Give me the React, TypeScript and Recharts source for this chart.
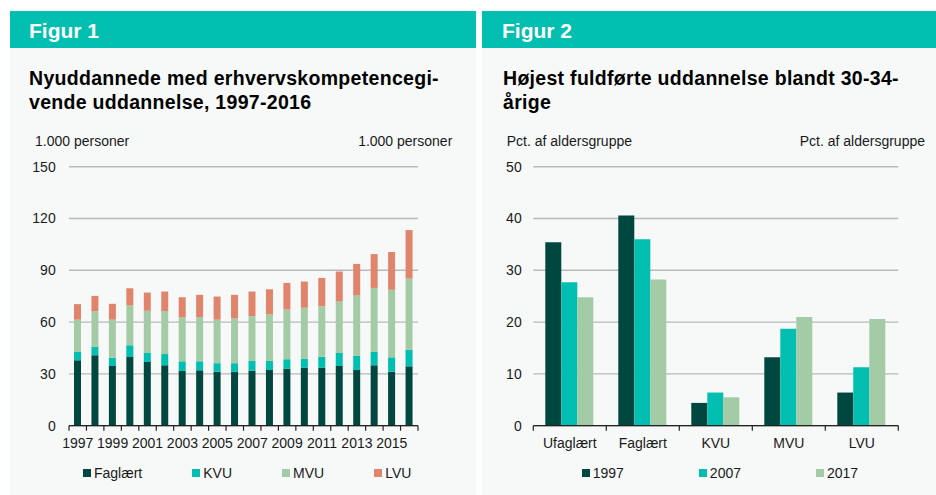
import React from 'react';
import { BarChart, Bar, XAxis, YAxis, CartesianGrid } from 'recharts';

// ---------- Figur 1 data (1.000 personer) ----------
const years = ['1997','1998','1999','2000','2001','2002','2003','2004','2005','2006','2007','2008','2009','2010','2011','2012','2013','2014','2015','2016'];
const faglaert = [37.9,40.8,34.6,39.8,36.9,35.0,31.7,32.1,31.2,31.2,31.9,32.3,32.9,33.5,33.5,34.6,32.3,35.0,31.2,34.4];
const kvu = [4.8,4.8,4.8,6.8,5.2,6.5,5.6,5.2,5.0,5.0,5.6,5.2,5.6,5.2,6.5,7.5,8.1,7.7,8.4,9.5];
const mvu = [18.7,20.6,22.0,23.0,24.5,24.9,25.4,25.6,25.2,25.9,26.0,26.9,28.8,29.6,29.2,29.8,35.0,37.1,39.1,41.3];
const lvu = [9.0,9.0,9.2,10.0,10.5,11.3,11.7,12.9,13.4,13.7,14.2,14.6,15.4,15.2,16.4,17.4,18.3,19.6,21.9,28.1];
const fig1Ticks = [0,30,60,90,120,150];

// ---------- Figur 2 data (Pct. af aldersgruppe) ----------
const groups = ['Ufaglært','Faglært','KVU','MVU','LVU'];
const y1997 = [35.4,40.6,4.4,13.2,6.4];
const y2007 = [27.7,36.0,6.4,18.7,11.3];
const y2017 = [24.8,28.2,5.5,21.0,20.6];
const fig2Ticks = [0,10,20,30,40,50];

const DARK = '#00483f';
const TEAL = '#00bfb0';
const LGREEN = '#a3cca6';
const SALMON = '#e0846b';
const HEADER = '#00bfb0';
const PANEL = '#f7f9f9';
const GRID = '#b9b9b9';
const AXIS = '#222222';
const TXT = '#1a1a1a';

const fig1Series = [
  { key: 'Faglært', color: DARK },
  { key: 'KVU', color: TEAL },
  { key: 'MVU', color: LGREEN },
  { key: 'LVU', color: SALMON },
];
const fig2Series = [
  { key: '1997', color: DARK },
  { key: '2007', color: TEAL },
  { key: '2017', color: LGREEN },
];

const fig1Data = years.map((y, i) => ({
  year: y,
  'Faglært': faglaert[i],
  KVU: kvu[i],
  MVU: mvu[i],
  LVU: lvu[i],
}));
const fig2Data = groups.map((g, i) => ({
  group: g,
  '1997': y1997[i],
  '2007': y2007[i],
  '2017': y2017[i],
}));

const FONT = '"Liberation Sans", Arial, Helvetica, sans-serif';
const tickStyle = { fontSize: 14, fill: TXT, fontFamily: FONT };

const X_TICK_SIZE = 6;
const X_TICK_MARGIN = 6;
const MARK_LEN = 5;

// Category tick: boundary tick marks (Excel-style) + label every `every` categories
function makeBoundaryTick(count: number, every: number) {
  return function BoundaryTick(props: any) {
    const { x, y, payload, index } = props;
    const off = payload && typeof payload.offset === 'number' ? payload.offset : 0;
    const axisY = y - X_TICK_SIZE - X_TICK_MARGIN;
    const left = x - off;
    return (
      <g>
        <line x1={left} x2={left} y1={axisY} y2={axisY + MARK_LEN} stroke={AXIS} strokeWidth={1.2} />
        {index === count - 1 && (
          <line x1={x + off} x2={x + off} y1={axisY} y2={axisY + MARK_LEN} stroke={AXIS} strokeWidth={1.2} />
        )}
        {index % every === 0 && (
          <text x={x} y={y} dy="0.71em" textAnchor="middle" fontSize={14} fill={TXT} fontFamily={FONT}>
            {payload.value}
          </text>
        )}
      </g>
    );
  };
}

const Fig1Tick = makeBoundaryTick(years.length, 2);
const Fig2Tick = makeBoundaryTick(groups.length, 1);

function Legend({ items, left, gap }: { items: { key: string; color: string }[]; left: number; gap: number }) {
  return (
    <div style={{ position: 'absolute', left, top: 464.7, display: 'flex', alignItems: 'center', gap, whiteSpace: 'nowrap' }}>
      {items.map((it) => (
        <div key={it.key} style={{ display: 'flex', alignItems: 'center' }}>
          <div style={{ width: 8, height: 8, background: it.color, marginRight: 3 }} />
          <span style={{ fontSize: 14, lineHeight: '16px', color: TXT }}>{it.key}</span>
        </div>
      ))}
    </div>
  );
}

const titleStyle: React.CSSProperties = {
  position: 'absolute', top: 65.6, fontSize: 19.5, lineHeight: '24.5px', fontWeight: 'bold',
  color: '#000', whiteSpace: 'nowrap', letterSpacing: 0.3,
};
const headerStyle: React.CSSProperties = {
  position: 'absolute', top: 19.6, fontSize: 21, lineHeight: '21px', fontWeight: 'bold', color: '#fff', whiteSpace: 'nowrap',
};
const unitStyle: React.CSSProperties = {
  position: 'absolute', top: 133.2, fontSize: 14, lineHeight: '16px', color: TXT, whiteSpace: 'nowrap',
};

export default function App() {
  return (
    <div style={{ position: 'absolute', left: 0, top: 0, width: 936, height: 495, background: '#ffffff', fontFamily: FONT, overflow: 'hidden' }}>
      {/* Panels */}
      <div style={{ position: 'absolute', left: 10, top: 11, width: 466, height: 484, background: PANEL }} />
      <div style={{ position: 'absolute', left: 10, top: 11, width: 466, height: 37, background: HEADER }} />
      <div style={{ position: 'absolute', left: 482, top: 11, width: 454, height: 484, background: PANEL }} />
      <div style={{ position: 'absolute', left: 482, top: 11, width: 454, height: 37, background: HEADER }} />

      {/* Headers */}
      <div style={{ ...headerStyle, left: 29 }}>Figur 1</div>
      <div style={{ ...headerStyle, left: 502 }}>Figur 2</div>

      {/* Titles */}
      <div style={{ ...titleStyle, left: 29 }}>
        Nyuddannede med erhvervskompetencegi-<br />vende uddannelse, 1997-2016
      </div>
      <div style={{ ...titleStyle, left: 503 }}>
        Højest fuldførte uddannelse blandt 30-34-<br />årige
      </div>

      {/* Axis unit labels */}
      <div style={{ ...unitStyle, left: 35 }}>1.000 personer</div>
      <div style={{ ...unitStyle, right: 936 - 452.3, textAlign: 'right' }}>1.000 personer</div>
      <div style={{ ...unitStyle, left: 506.7 }}>Pct. af aldersgruppe</div>
      <div style={{ ...unitStyle, right: 11, textAlign: 'right' }}>Pct. af aldersgruppe</div>

      {/* Figur 1 chart */}
      <div style={{ position: 'absolute', left: 0, top: 0 }}>
        <BarChart width={480} height={495} data={fig1Data} margin={{ top: 166.7, right: 12, bottom: 39.3, left: 9 }}>
          <CartesianGrid vertical={false} stroke={GRID} strokeWidth={1.4} />
          <XAxis dataKey="year" height={30} axisLine={{ stroke: AXIS, strokeWidth: 1.2 }} tickLine={false} interval={0} tick={<Fig1Tick />} tickSize={X_TICK_SIZE} tickMargin={X_TICK_MARGIN} />
          <YAxis domain={[0, 150]} ticks={fig1Ticks} width={60} axisLine={false} tickLine={false} tick={tickStyle} tickSize={6} tickMargin={7.3} />
          <YAxis yAxisId="r" orientation="right" domain={[0, 150]} ticks={fig1Ticks} width={50} axisLine={false} tickLine={false} tick={tickStyle} tickSize={6} tickMargin={6.7} />
          {fig1Series.map((s) => (
            <Bar key={s.key} dataKey={s.key} stackId="a" fill={s.color} barSize={7} isAnimationActive={false} />
          ))}
        </BarChart>
      </div>

      {/* Figur 2 chart */}
      <div style={{ position: 'absolute', left: 480, top: 0 }}>
        <BarChart width={456} height={495} data={fig2Data} margin={{ top: 166.7, right: 7.7, bottom: 39.3, left: 3.3 }} barCategoryGap={12} barGap={0}>
          <CartesianGrid vertical={false} stroke={GRID} strokeWidth={1.4} />
          <XAxis dataKey="group" height={30} axisLine={{ stroke: AXIS, strokeWidth: 1.2 }} tickLine={false} interval={0} tick={<Fig2Tick />} tickSize={X_TICK_SIZE} tickMargin={X_TICK_MARGIN} />
          <YAxis domain={[0, 50]} ticks={fig2Ticks} width={50} axisLine={false} tickLine={false} tick={tickStyle} tickSize={6} tickMargin={5.6} />
          <YAxis yAxisId="r" orientation="right" domain={[0, 50]} ticks={fig2Ticks} width={30} axisLine={false} tickLine={false} tick={tickStyle} tickSize={6} tickMargin={5.7} />
          {fig2Series.map((s) => (
            <Bar key={s.key} dataKey={s.key} fill={s.color} isAnimationActive={false} />
          ))}
        </BarChart>
      </div>

      <Legend items={fig1Series} left={83} gap={50} />
      <Legend items={fig2Series} left={581.7} gap={75} />
    </div>
  );
}
